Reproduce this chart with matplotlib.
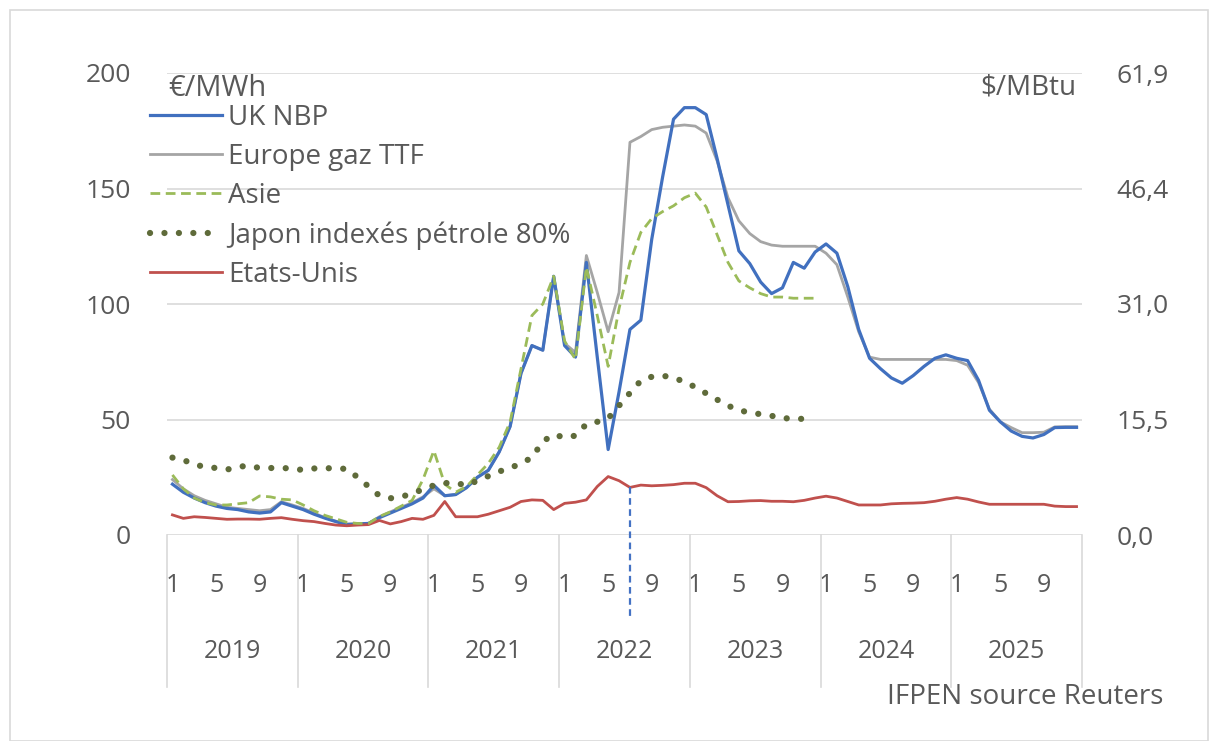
import matplotlib.pyplot as plt
import matplotlib.transforms as mtransforms
from matplotlib.patches import Rectangle

## Données (mensuelles, janv. 2019 -> déc. 2025)

annees = ['2019', '2020', '2021', '2022', '2023', '2024', '2025']
mois_affiches = ['1', '5', '9']

uk_nbp = [22, 18.5, 16, 14, 12.5, 11.5, 11, 10, 9.5, 10, 14, 12.5,
          11, 9, 7.3, 5.8, 4.5, 4.8, 5, 7.5, 9.5, 11.5, 13.5, 16,
          21.5, 17, 17.5, 20.5, 25, 28, 36, 47, 70, 82, 80, 112,
          82, 77, 118, 77, 37, 62, 89, 93, 128, 155, 180, 185,
          185, 182, 163, 143, 123, 117.5, 109.5, 104.5, 107, 118, 115.5, 122.5,
          126, 122, 107.5, 89, 76.5, 72, 68, 65.7, 69, 73, 76.5, 78,
          76.5, 75.5, 67, 54, 49, 45, 42.7, 42, 43.5, 46.5, 46.6, 46.6]

europe_ttf = [24, 20, 17, 15, 13.5, 12, 11.5, 11, 10.5, 11, 14.4, 13,
              11.5, 9.5, 7.5, 6, 4.8, 4.8, 5, 7.9, 10, 12, 14, 16.5,
              20, 17, 17.5, 20.5, 25, 28, 36, 47, 70, 82, 80, 112,
              83, 79, 121, 105, 88, 105, 170, 172.5, 175.5, 176.5, 177, 177.5,
              177, 174, 162, 146, 136, 130.5, 127, 125.5, 125, 125, 125, 125,
              122, 117, 103, 88, 77, 76, 76, 76, 76, 76, 76, 76,
              75.5, 73.5, 66, 54.5, 49, 46.5, 44.3, 44.3, 44.5, 46.8, 46.9, 46.9]

asie = [26, 20, 16, 14, 13, 13, 13.5, 14, 16.9, 16.5, 15.5, 15.2,
        13, 10.5, 8.5, 7, 5.5, 5, 5, 8, 10, 12.5, 15, 24,
        36.5, 22, 18.5, 21, 26, 31, 38, 49, 72, 95, 100, 112,
        84, 76, 116, 95, 73, 98, 118, 131, 137, 140, 142.5, 146,
        148, 142, 130, 118, 110, 107, 104.5, 103, 103, 102.5, 102.5, 102.5]

japon = [33.5, 32.5, 30.5, 29.5, 29, 28.3, 29.5, 30, 29, 29, 29, 28.8,
         28.1, 28.8, 28.9, 28.9, 28.6, 25, 21, 17, 15.9, 16.5, 18, 19.7,
         21.5, 22.5, 22.5, 21.5, 23.5, 25.5, 27.5, 29, 31, 33.5, 40.5, 43.5,
         42.2, 43, 48, 49, 50.5, 56, 61.5, 66.8, 68.5, 69, 68, 66.4,
         64, 61.3, 58.6, 56, 54, 53, 52.3, 51.6, 50.5, 50.5, 50.2, 49.8]

etats_unis = [8.7, 7.2, 7.9, 7.6, 7.2, 6.8, 6.9, 6.9, 6.8, 7.2, 7.5, 6.8,
              6.2, 5.8, 5.0, 4.3, 4.0, 4.3, 4.5, 6.3, 4.8, 5.8, 7.2, 6.8,
              8.5, 14.5, 7.9, 7.9, 7.9, 9.0, 10.5, 12.0, 14.5, 15.2, 15.0, 11.0,
              13.7, 14.2, 15.2, 21, 25.3, 23.5, 20.6, 21.6, 21.3, 21.5, 21.8, 22.4,
              22.4, 20.5, 17, 14.4, 14.5, 14.8, 14.9, 14.6, 14.6, 14.4, 15, 16,
              16.8, 16, 14.5, 13, 13, 13, 13.5, 13.7, 13.8, 14, 14.6, 15.5,
              16.2, 15.5, 14.3, 13.3, 13.3, 13.3, 13.3, 13.3, 13.3, 12.5, 12.3, 12.3]

graduations_gauche = [0, 50, 100, 150, 200]
graduations_droite = ['0,0', '15,5', '31,0', '46,4', '61,9']
mois_repere = 42   # juillet 2022, trait pointillé vertical

## Figure

police = 'Open Sans'
gris_texte = '#595959'
plt.rcParams['font.family'] = [police, 'DejaVu Sans']

fig = plt.figure(figsize=(12.18, 7.41), dpi=100)
fig.patches.append(Rectangle((10 / 1218, 0), 1198 / 1218, 731 / 741, transform=fig.transFigure,
                             fill=False, edgecolor='#d9d9d9', linewidth=1.2))
ax = fig.add_axes([167 / 1218, 1 - 535 / 741, 915 / 1218, 462 / 741])

n = len(uk_nbp)
x_all = list(range(n))
x_asie = list(range(len(asie)))

ax.plot(x_all, uk_nbp, color='#4170bf', lw=2.3, label='UK NBP', zorder=5)
ax.plot(x_all, europe_ttf, color='#a5a5a5', lw=2.0, label='Europe gaz TTF', zorder=4)
ax.plot(x_asie, asie, color='#9bbb59', lw=2.0, linestyle=(0, (3.5, 2)), label='Asie', zorder=6)
ax.plot(x_asie, japon, color='#5f6b3a', lw=4.5, linestyle=(0, (0.01, 2.3)),
        dash_capstyle='round', label='Japon indexés pétrole 80%', zorder=6)
ax.plot(x_all, etats_unis, color='#c0504d', lw=2.0, label='Etats-Unis', zorder=5)

# trait vertical pointillé bleu
ax.plot([mois_repere, mois_repere], [etats_unis[mois_repere], -37], color='#4472c4',
        lw=1.6, linestyle=(0, (3, 2)), clip_on=False, zorder=7)

ax.set_xlim(-0.5, n - 0.5)
ax.set_ylim(0, 200)
ax.set_yticks(graduations_gauche)
ax.set_yticklabels([str(v) for v in graduations_gauche])
ax.grid(axis='y', color='#d9d9d9', lw=1.2)
ax.set_axisbelow(True)
for s in ax.spines.values():
    s.set_visible(False)
ax.tick_params(axis='y', length=0, pad=26, labelsize=19, labelcolor=gris_texte)

# axe droit en $/MBtu
ax2 = ax.twinx()
ax2.set_ylim(0, 200)
ax2.set_yticks(graduations_gauche)
ax2.set_yticklabels(graduations_droite)
for s in ax2.spines.values():
    s.set_visible(False)
ax2.tick_params(axis='y', length=0, pad=25, labelsize=19, labelcolor=gris_texte)

# axe des x : mois 1, 5, 9 puis années
pos_mois = []
lab_mois = []
for k in range(len(annees)):
    for j, m in enumerate(mois_affiches):
        pos_mois.append(12 * k + 4 * j)
        lab_mois.append(m)
ax.set_xticks(pos_mois)
ax.set_xticklabels(lab_mois)
ax.tick_params(axis='x', length=0, pad=27, labelsize=18, labelcolor=gris_texte)

trans = mtransforms.blended_transform_factory(ax.transData, ax.transAxes)
for k, a in enumerate(annees):
    ax.text(12 * k + 5.5, -0.253, a, transform=trans, ha='center', va='center',
            fontsize=18, color=gris_texte)
for k in range(len(annees) + 1):
    b = 12 * k - 0.5
    ax.plot([b, b], [0, -0.33], transform=trans, color='#d9d9d9', lw=1.2, clip_on=False)

# unités et source
fig.text(168 / 1218, 1 - 88 / 741, '€/MWh', fontsize=21, color=gris_texte, va='center', ha='left')
fig.text(1076 / 1218, 1 - 88 / 741, r'\$/MBtu', fontsize=20, color=gris_texte, va='center', ha='right')
fig.text(1163 / 1218, 1 - 697 / 741, 'IFPEN source Reuters', fontsize=20, color=gris_texte,
         va='center', ha='right')

leg = ax.legend(loc='upper left', bbox_to_anchor=(150 / 1218, 1 - 104 / 741), bbox_transform=fig.transFigure,
                frameon=False, fontsize=20, handlelength=2.6, handletextpad=0.2, labelspacing=0.4,
                borderaxespad=0, borderpad=0)
for t in leg.get_texts():
    t.set_color(gris_texte)

fig.savefig('out.png', dpi=100)
